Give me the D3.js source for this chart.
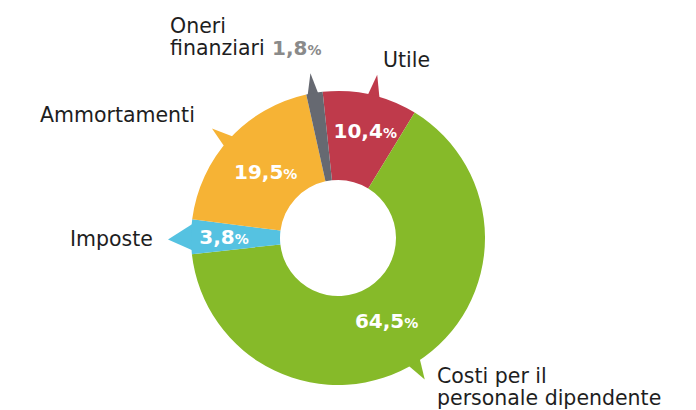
<!DOCTYPE html>
<html><head><meta charset="utf-8">
<script src="https://cdn.jsdelivr.net/npm/d3@7/dist/d3.min.js"></script>
<style>html,body{margin:0;padding:0;background:#fff;}svg{display:block;}</style>
</head><body>
<svg id="chart" width="696" height="410"></svg>
<script>
// ---- data ----
const categories = ["Utile", "Costi per il personale dipendente", "Imposte", "Ammortamenti", "Oneri finanziari"];
const values = [10.4, 64.5, 3.8, 19.5, 1.8];
const labelLines = [["Utile"], ["Costi per il", "personale dipendente"], ["Imposte"], ["Ammortamenti"], ["Oneri", "finanziari"]];
const colors = ["#bf3a4b", "#86ba29", "#55c2e1", "#f6b335", "#666971"];

// ---- layout (not data) ----
const W = 696, H = 410;
const cx = 338, cy = 238, R = 147, r0 = 58;
const startDeg = -6;
// tab geometry per slice: base angles, tip angle (deg), tip radius
const tabs = [
  {a0: 11.5, a1: 17, t: 13.5, r: 168},
  {a0: 145.5, a1: 151.5, t: 148.5, r: 166},
  {a0: 264.5, a1: 276.5, t: 269.5, r: 170},
  {a0: 308.5, a1: 314.5, t: 311, r: 167},
  {a0: 347.6, a1: 352.5, t: 350.5, r: 167}
];
const valueLabelR = [110, 98, 114, 98, null];
const valueLabelShift = [3, -4, 0, 0, 0];
const catLabelPos = [
  {x: 383, y: 67}, {x: 437, y: 383}, {x: 70, y: 246}, {x: 40, y: 122}, {x: 170, y: 33}
];
const lineH = 22;

const svg = d3.select("#chart");
const g = svg.append("g").attr("transform", `translate(${cx},${cy})`);
const rad = d => d * Math.PI / 180;
const pie = d3.pie().sort(null).value(d => d)
  .startAngle(rad(startDeg)).endAngle(rad(startDeg) + 2 * Math.PI);
const arcs = pie(values);
const arc = d3.arc().innerRadius(r0).outerRadius(R);

const pt = (deg, rr) => [Math.sin(rad(deg)) * rr, -Math.cos(rad(deg)) * rr];

// tabs
g.selectAll("path.tab").data(arcs).join("path").attr("class", "tab")
  .attr("fill", (d, i) => colors[i])
  .attr("d", (d, i) => {
    const t = tabs[i];
    return "M" + [pt(t.a0, R - 4), pt(t.t, t.r), pt(t.a1, R - 4)].map(p => p.join(",")).join("L") + "Z";
  });

// slices
g.selectAll("path.slice").data(arcs).join("path").attr("class", "slice")
  .attr("fill", (d, i) => colors[i]).attr("d", arc);

const fmt = d3.formatLocale({decimal: ",", thousands: ".", grouping: [3], currency: ["", "€"]}).format(".1f");

// value labels inside
arcs.forEach((d, i) => {
  if (valueLabelR[i] == null) return;
  const mid = (d.startAngle + d.endAngle) / 2;
  const x = Math.sin(mid) * valueLabelR[i] + valueLabelShift[i], y = -Math.cos(mid) * valueLabelR[i];
  const t = g.append("text").attr("x", x).attr("y", y + 7).attr("text-anchor", "middle")
    .attr("fill", "#fff").attr("font-family", "'DejaVu Sans', sans-serif").attr("font-weight", "bold");
  t.append("tspan").attr("font-size", 20).text(fmt(values[i]));
  t.append("tspan").attr("font-size", 14).text("%");
});

// category labels
labelLines.forEach((lines, i) => {
  const p = catLabelPos[i];
  const t = svg.append("text").attr("font-family", "'DejaVu Sans', sans-serif")
    .attr("font-size", 20.5).attr("fill", "#1e1e1e");
  lines.forEach((ln, k) => {
    t.append("tspan").attr("x", p.x).attr("y", p.y + k * lineH).text(ln);
  });
});

// outside value label for Oneri finanziari
{
  const i = 4;
  const t = svg.append("text").attr("x", 272).attr("y", catLabelPos[i].y + lineH)
    .attr("font-family", "'DejaVu Sans', sans-serif").attr("font-weight", "bold").attr("fill", "#8a8a8a");
  t.append("tspan").attr("font-size", 20).text(fmt(values[i]));
  t.append("tspan").attr("font-size", 14).text("%");
}
</script>
</body></html>
